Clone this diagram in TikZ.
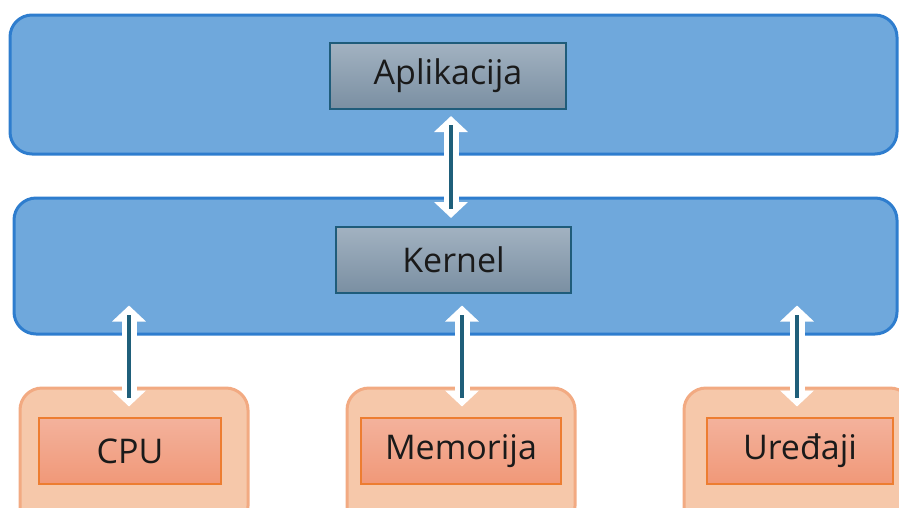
\documentclass[tikz,border=0pt]{standalone}
\usepackage{fontspec}
\setmainfont{Open Sans}
\usetikzlibrary{arrows.meta}
\definecolor{layerfill}{HTML}{6FA8DC}
\definecolor{layerdraw}{HTML}{2E7DCE}
\definecolor{graytop}{HTML}{A2B2C1}
\definecolor{graybot}{HTML}{7A8FA2}
\definecolor{graydraw}{HTML}{1F5C7A}
\definecolor{orfill}{HTML}{F6C8AA}
\definecolor{ordraw}{HTML}{F2AA82}
\definecolor{ortop}{HTML}{F3B29C}
\definecolor{orbot}{HTML}{F19878}
\definecolor{orinner}{HTML}{ED7D31}
\definecolor{arrowcore}{HTML}{1F5F7A}
\definecolor{txt}{HTML}{1A1A1A}
\tikzset{
  layer/.style={draw=layerdraw, fill=layerfill, line width=3pt, rounded corners=22pt, inner sep=0pt},
  graybox/.style={draw=graydraw, line width=2pt, top color=graytop, bottom color=graybot, inner sep=0pt, font=\fontsize{34}{40}\selectfont, text=txt},
  hwouter/.style={draw=ordraw, fill=orfill, line width=3pt, rounded corners=22pt, inner sep=0pt},
  hwinner/.style={draw=orinner, line width=2.2pt, top color=ortop, bottom color=orbot, inner sep=0pt, font=\fontsize{34}{40}\selectfont, text=txt},
  wbody/.style={white, line width=15pt, {Triangle[length=16pt,width=33pt]}-{Triangle[length=16pt,width=33pt]}},
  wcore/.style={arrowcore, line width=4.5pt}
}
\begin{document}
\begin{tikzpicture}[x=1pt,y=-1pt]
\useasboundingbox (0,0) rectangle (899,507);
\clip (0,0) rectangle (899,507);
% layers
\node[layer, minimum width=887pt, minimum height=139pt] (applayer) at (453.5,84.5) {};
\node[layer, minimum width=883pt, minimum height=136pt] (kernlayer) at (455.5,266) {};
\node[graybox, minimum width=236pt, minimum height=66pt] (app) at (448,76) {Aplikacija};
\node[graybox, minimum width=235pt, minimum height=66pt] (kern) at (453.5,260) {Kernel};
% hardware
\node[hwouter, minimum width=228pt, minimum height=140pt] (cpuout) at (134,458) {};
\node[hwouter, minimum width=228pt, minimum height=140pt] (memout) at (461,458) {};
\node[hwouter, minimum width=228pt, minimum height=140pt] (devout) at (798,458) {};
\node[hwinner, minimum width=182pt, minimum height=66pt] (cpu) at (130,451) {CPU};
\node[hwinner, minimum width=200pt, minimum height=66pt] (mem) at (461,451) {Memorija};
\node[hwinner, minimum width=186pt, minimum height=66pt] (dev) at (800,451) {Uređaji};
% arrows
\coordinate (a1) at ([xshift=3pt,yshift=-6pt]app.south);
\coordinate (a2) at (a1 |- kern.north);
\coordinate (a2s) at ([yshift=8pt]a2);
\draw[wbody] (a1) -- (a2s);
\draw[wcore, shorten <=9pt, shorten >=9pt] (a1) -- (a2s);
\foreach \n/\dx in {cpuout/-5, memout/1, devout/-1}{
  \coordinate (b1) at ([xshift=\dx pt,yshift=-20pt]\n.north);
  \coordinate (b2) at ([yshift=30pt]b1 |- kernlayer.south);
  \draw[wbody] (b1) -- (b2);
  \draw[wcore, shorten <=9pt, shorten >=9pt] (b1) -- (b2);
}
\end{tikzpicture}
\end{document}
